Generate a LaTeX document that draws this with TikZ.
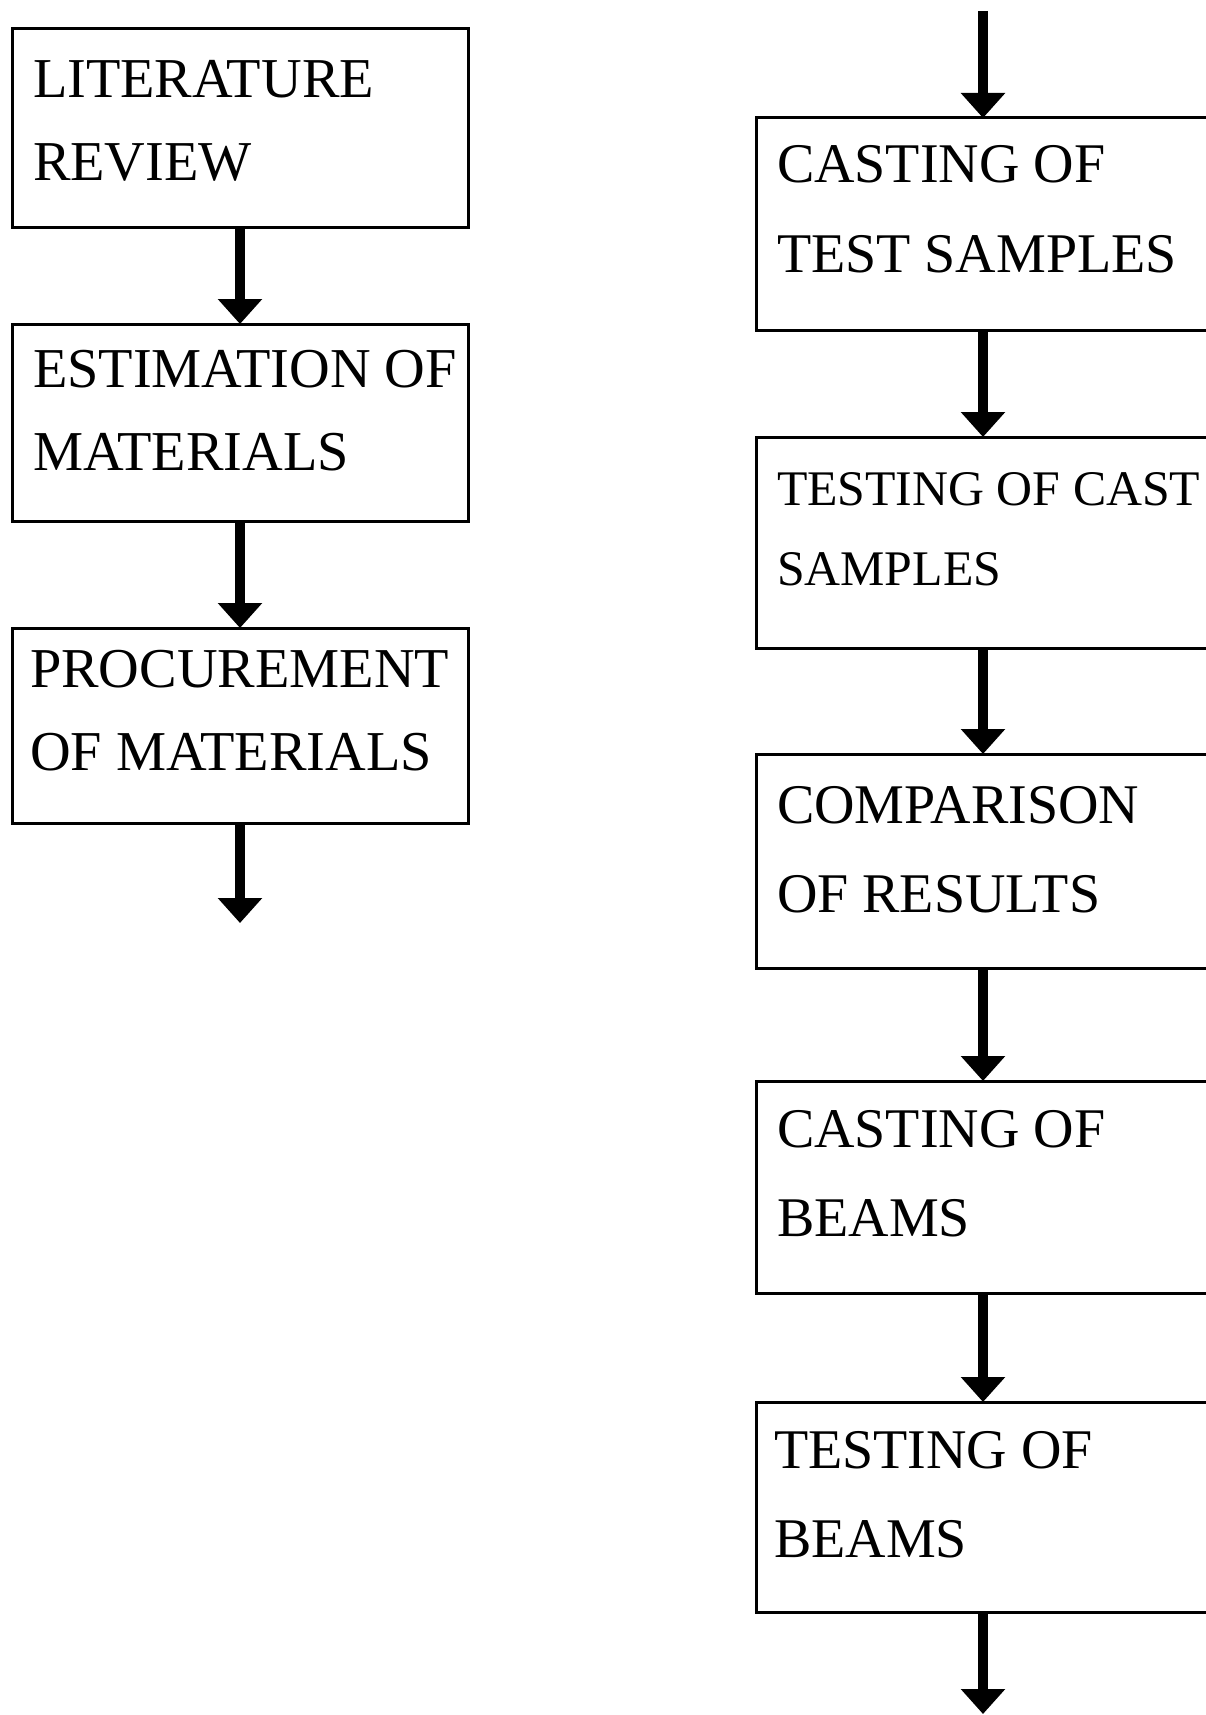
\documentclass[tikz,border=0pt]{standalone}
\usepackage{fontspec}
\setmainfont{Liberation Serif}
\usetikzlibrary{arrows.meta}
\begin{document}
\begin{tikzpicture}[x=1pt,y=-1pt,
  box/.style={draw,line width=3pt,rectangle,inner sep=0pt,outer sep=0pt,anchor=north west},
  lbox/.style={box,minimum width=456pt},
  rbox/.style={box,minimum width=454pt},
  lblL/.style={anchor=base west,inner sep=0pt,outer sep=0pt,align=left,font=\fontsize{56.3pt}{83pt}\selectfont},
  lblR/.style={anchor=base west,inner sep=0pt,outer sep=0pt,align=left,font=\fontsize{56pt}{89pt}\selectfont},
  lblS/.style={anchor=base west,inner sep=0pt,outer sep=0pt,align=left,font=\fontsize{49.8pt}{80pt}\selectfont},
  flow/.style={line width=10pt,-{Triangle[width=43pt,length=25pt]}}]
\useasboundingbox (0,0) rectangle (1206,1715);
\clip (0,0) rectangle (1206,1715);
% left column
\node[lbox,minimum height=198pt] (b1) at (12,29) {};
\node[lbox,minimum height=197pt] (b2) at (12,324) {};
\node[lbox,minimum height=195pt] (b3) at (12,628) {};
\node[lblL] (t1) at (33,181) {LITERATURE\\REVIEW};
\node[lblL] (t2) at (33,470) {ESTIMATION OF\\MATERIALS};
\node[lblL] (t3) at (30,770) {PROCUREMENT\\OF MATERIALS};
\coordinate (lend) at (240,923);
\draw[flow] (b1.south) -- (b2.north);
\draw[flow] (b2.south) -- (b3.north);
\draw[flow] (b3.south) -- (lend);
% right column
\coordinate (rstart) at (983,11);
\node[rbox,minimum height=212pt] (r1) at (756,118) {};
\node[rbox,minimum height=211pt] (r2) at (756,437) {};
\node[rbox,minimum height=214pt] (r3) at (756,754) {};
\node[rbox,minimum height=212pt] (r4) at (756,1081) {};
\node[rbox,minimum height=210pt] (r5) at (756,1402) {};
\node[lblR] (s1) at (777,272) {CASTING OF\\TEST SAMPLES};
\node[lblS] (s2) at (777,585) {TESTING OF CAST\\SAMPLES};
\node[lblR] (s3) at (777,912) {COMPARISON\\OF RESULTS};
\node[lblR] (s4) at (777,1236) {CASTING OF\\BEAMS};
\node[lblR] (s5) at (774,1557) {TESTING OF\\BEAMS};
\coordinate (rend) at (983,1714);
\draw[flow] (rstart) -- (r1.north);
\draw[flow] (r1.south) -- (r2.north);
\draw[flow] (r2.south) -- (r3.north);
\draw[flow] (r3.south) -- (r4.north);
\draw[flow] (r4.south) -- (r5.north);
\draw[flow] (r5.south) -- (rend);
\end{tikzpicture}
\end{document}
